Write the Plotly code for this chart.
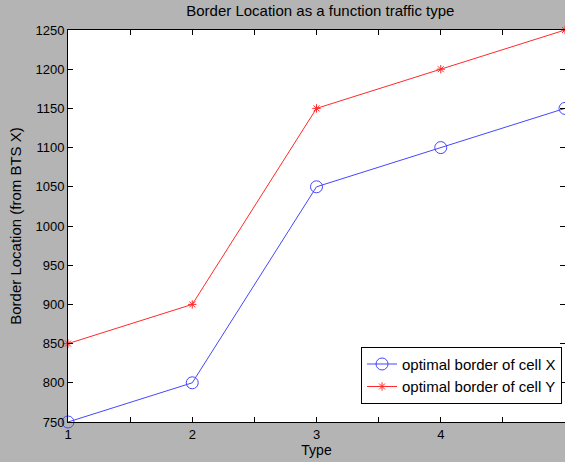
import plotly.graph_objects as go

types = [1, 2, 3, 4, 5]
cell_x = [750, 800, 1050, 1100, 1150]
cell_y = [850, 900, 1150, 1200, 1250]
y_ticks = list(range(750, 1251, 50))

font = "Liberation Sans, Arial, Helvetica, sans-serif"

fig = go.Figure()
fig.add_trace(go.Scatter(
    x=types, y=cell_x, mode="lines+markers", name="optimal border of cell X",
    line=dict(color="#4646ff", width=1),
    marker=dict(symbol="circle-open", size=12, color="#4646ff", line=dict(width=1)),
    cliponaxis=False))
fig.add_trace(go.Scatter(
    x=types, y=cell_y, mode="lines+markers", name="optimal border of cell Y",
    line=dict(color="#ff2a2a", width=1),
    marker=dict(symbol="asterisk-open", size=7, color="#ff2a2a", line=dict(width=1)),
    cliponaxis=False))

fig.update_layout(
    width=565, height=462,
    margin=dict(l=68, r=0, t=30, b=40, autoexpand=False),
    paper_bgcolor="#b4b4b4", plot_bgcolor="white",
    font=dict(family=font, size=13, color="black"),
    title=dict(text="Border Location as a function traffic type", x=0.567, xanchor="center",
               y=0.977, yanchor="middle", font=dict(size=15), automargin=False),
    showlegend=True,
    legend=dict(x=0.994, xanchor="right", y=0.192, yanchor="top",
                bgcolor="white", bordercolor="black", borderwidth=1,
                font=dict(size=15), tracegroupgap=0, itemwidth=30),
)
fig.update_xaxes(
    range=[1, 5], tickvals=types, showgrid=False, zeroline=False,
    showline=True, linecolor="black", linewidth=1, mirror="ticks",
    ticks="inside", ticklen=5, tickcolor="black", automargin=False,
    minor=dict(dtick=0.5, ticks="inside", ticklen=5, tickcolor="black", showgrid=False),
    title=dict(text="Type", standoff=0, font=dict(size=14)), ticklabelstandoff=0)
fig.update_yaxes(
    range=[750, 1250], tickvals=y_ticks, showgrid=False, zeroline=False,
    showline=True, linecolor="black", linewidth=1, mirror="ticks",
    ticks="inside", ticklen=5, tickcolor="black", automargin=False,
    title=dict(text="Border Location (from BTS X)", standoff=10, font=dict(size=15)))

fig.write_html("out.html", config={"displayModeBar": False},
               post_script="document.body.style.margin='0';document.body.style.overflow='hidden';")
